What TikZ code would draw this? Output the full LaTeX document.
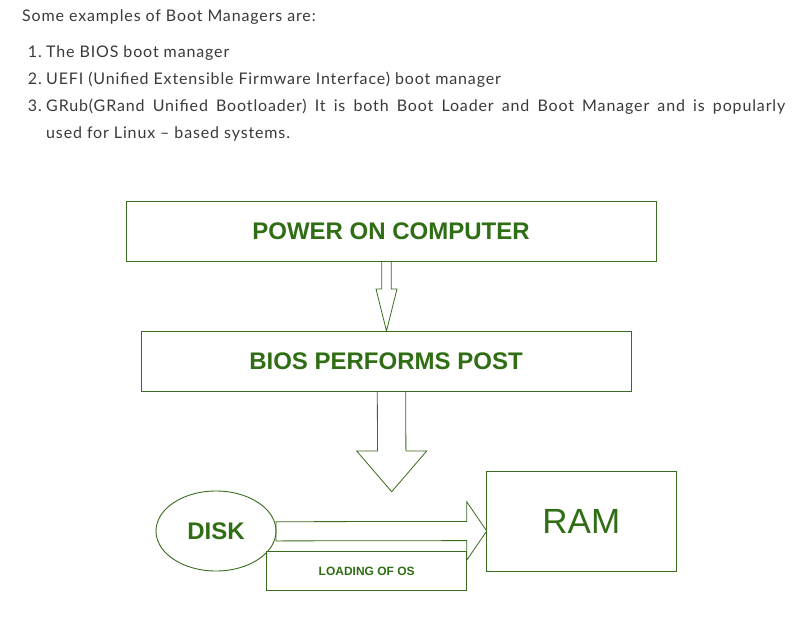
\documentclass[tikz,border=0pt]{standalone}
\usepackage{fontspec}
\setmainfont[LetterSpace=5.4]{Lato}
\newfontfamily\arialfont{Liberation Sans}
\usetikzlibrary{calc,shapes.geometric}
\definecolor{gtext}{HTML}{2F6E14}
\definecolor{gline}{HTML}{3A6B1E}
\definecolor{bodytext}{HTML}{3A3A3A}
\begin{document}
\begin{tikzpicture}[x=1pt,y=-1pt,
  body/.style={font=\fontsize{16}{18}\selectfont, text=bodytext, inner sep=0pt, anchor=base west},
  num/.style={body, anchor=base east},
  box/.style={draw=gline, line width=0.9pt, fill=white, inner sep=0pt},
  lbl/.style={text=gtext, font=\arialfont\bfseries\fontsize{24}{28}\selectfont},
  blk/.style={draw=gline, line width=0.8pt, fill=white, line join=miter}]
\useasboundingbox[fill=white] (0,0) rectangle (803,619);

% text above the diagram
\node[body] (intro) at (22,21) {Some examples of Boot Managers are:};
\node[num] (n1) at (42,57) {1.};
\node[body] (i1) at (46,57) {The BIOS boot manager};
\node[num] (n2) at (42,84) {2.};
\node[body] (i2) at (46,84) {UEFI (Unified Extensible Firmware Interface) boot manager};
\node[num] (n3) at (42,111) {3.};
\node[body] (i3) at (46,111) {\makebox[739pt][s]{GRub(GRand Unified Bootloader) It is both Boot Loader and Boot Manager and is popularly}};
\node[body] (i3b) at (46,138) {used for Linux – based systems.};

% nodes positions (used by arrows)
\coordinate (b1c) at (391,231);
\coordinate (b2c) at (386,361);

% arrow 1: power on -> bios
\coordinate (a1s) at (386.5,261);
\coordinate (a1t) at (386.5,331);
\draw[blk] ($(a1s)+(-4.8,0)$) -- ($(a1t)+(-4.8,-42)$) -- ($(a1t)+(-10.5,-42)$) -- (a1t)
  -- ($(a1t)+(10.5,-42)$) -- ($(a1t)+(4.8,-42)$) -- ($(a1s)+(4.8,0)$);

% arrow 2: bios -> down
\coordinate (a2s) at (391.5,391);
\coordinate (a2t) at (391.7,491.7);
\draw[blk] ($(a2s)+(-14.2,0)$) -- ($(a2t)+(-14.2,-40.7)$) -- ($(a2t)+(-35,-40.7)$) -- (a2t)
  -- ($(a2t)+(35,-40.7)$) -- ($(a2t)+(14.2,-40.7)$) -- ($(a2s)+(14.2,0)$);

% arrow 3: disk -> ram
\coordinate (a3s) at (276,531.3);
\coordinate (a3t) at (486.7,531);
\draw[blk] ($(a3s)+(0,-9.6)$) -- ($(a3t)+(-20,-9.6)$) -- ($(a3t)+(-20,-29.3)$) -- (a3t)
  -- ($(a3t)+(-20,29.3)$) -- ($(a3t)+(-20,9.6)$) -- ($(a3s)+(0,9.6)$) -- cycle;

% boxes
\node[box, minimum width=530pt, minimum height=60pt, lbl] (power) at (b1c) {POWER ON COMPUTER};
\node[box, minimum width=490pt, minimum height=60pt, lbl] (bios) at (b2c) {BIOS PERFORMS POST};
\node[box, ellipse, minimum width=120pt, minimum height=80pt, lbl, fill=none] (disk) at (216,531) {DISK};
\node[box, minimum width=200pt, minimum height=39.5pt, text=gtext, font=\arialfont\bfseries\fontsize{12}{14}\selectfont, text depth=0pt] (load) at (366.7,570.8) {\raisebox{-2pt}{LOADING OF OS}};
\node[box, minimum width=190.7pt, minimum height=99.3pt, text=gtext, font=\arialfont\fontsize{35}{40}\selectfont] (ram) at (581.3,521.4) {\raisebox{-2pt}{RAM}};
\end{tikzpicture}
\end{document}
